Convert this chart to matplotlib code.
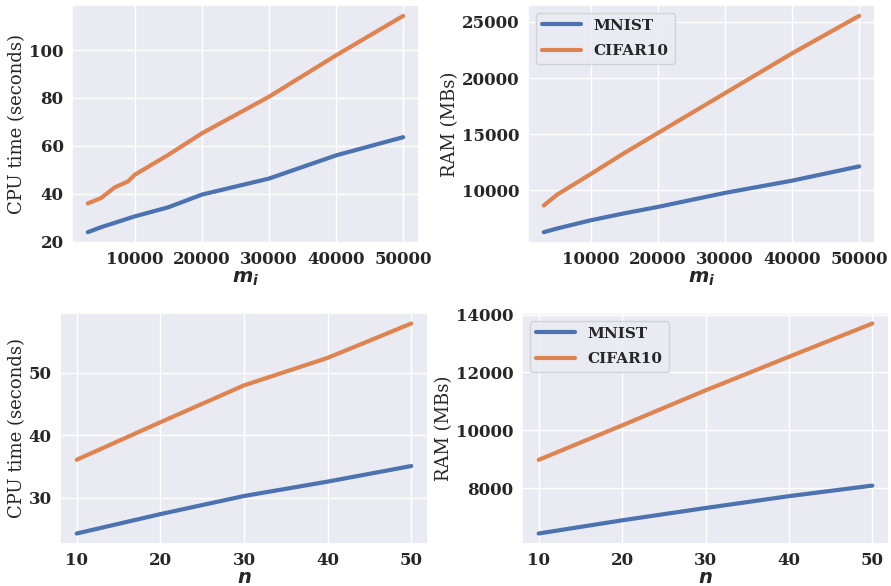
import numpy as np
import matplotlib
matplotlib.use("Agg")
import matplotlib.pyplot as plt
import seaborn as sns

# ── Data ──────────────────────────────────────────────────────────────────────
m_vals = [3000, 5000, 7000, 9000, 10000, 15000, 20000, 30000, 40000, 50000]
cpu_m_mnist = [23.9, 26.0, 27.8, 29.6, 30.5, 34.3, 39.6, 46.3, 56.0, 63.6]
cpu_m_cifar = [35.9, 38.2, 42.6, 45.1, 47.9, 56.2, 65.2, 80.5, 97.8, 114.3]

m_ram = [3000, 5000, 10000, 15000, 20000, 30000, 40000, 50000]
ram_m_mnist = [6270, 6600, 7330, 7950, 8520, 9770, 10860, 12130]
ram_m_cifar = [8640, 9620, 11450, 13320, 15100, 18650, 22200, 25540]

n_vals = [10, 20, 30, 40, 50]
cpu_n_mnist = [24.3, 27.4, 30.3, 32.6, 35.1]
cpu_n_cifar = [36.1, 42.1, 48.0, 52.4, 57.9]
ram_n_mnist = [6435, 6890, 7315, 7725, 8090]
ram_n_cifar = [8980, 10170, 11380, 12540, 13690]

labels = ["MNIST", "CIFAR10"]

sns.set_theme(style="darkgrid")
plt.rcParams["font.family"] = ["DejaVu Serif"]
plt.rcParams["mathtext.fontset"] = "dejavusans"

fig = plt.figure(figsize=(8.91, 5.86), dpi=100)
W, H = 891.0, 586.0

def box(l, t, r, b):
    return [l / W, 1 - b / H, (r - l) / W, (b - t) / H]

# axes box, data, labels, ylabel x (axes coords), xlabel y (axes coords), legend
panels = [
    (box(72, 5, 419, 243), m_vals, cpu_m_mnist, m_vals, cpu_m_cifar,
     "CPU time (seconds)", r"$\mathbfit{m_i}$", -0.133, -0.112, False),
    (box(528, 5, 875, 243), m_ram, ram_m_mnist, m_ram, ram_m_cifar,
     "RAM (MBs)", r"$\mathbfit{m_i}$", -0.200, -0.112, True),
    (box(60, 313, 428, 544), n_vals, cpu_n_mnist, n_vals, cpu_n_cifar,
     "CPU time (seconds)", r"$\mathbfit{n}$", -0.092, -0.108, False),
    (box(522, 313, 889, 544), n_vals, ram_n_mnist, n_vals, ram_n_cifar,
     "RAM (MBs)", r"$\mathbfit{n}$", -0.188, -0.108, True),
]

for pos, x1, y1, x2, y2, ylab, xlab, ylx, xly, show_leg in panels:
    ax = fig.add_axes(pos)
    ax.plot(x1, y1, color="#4c72b0", lw=3, label=labels[0])
    ax.plot(x2, y2, color="#dd8452", lw=3, label=labels[1])
    ax.set_ylabel(ylab, fontsize=13)
    ax.set_xlabel(xlab, fontsize=14)
    ax.yaxis.set_label_coords(ylx, 0.5)
    ax.xaxis.set_label_coords(0.5, xly)
    ax.tick_params(axis="both", labelsize=12, length=0, pad=6)
    for t in ax.get_xticklabels() + ax.get_yticklabels():
        t.set_fontweight("bold")
    if show_leg:
        ax.legend(loc="upper left", prop={"weight": "bold", "size": 11},
                  handlelength=2.6, labelspacing=0.75)

fig.savefig("out.png", dpi=100)
